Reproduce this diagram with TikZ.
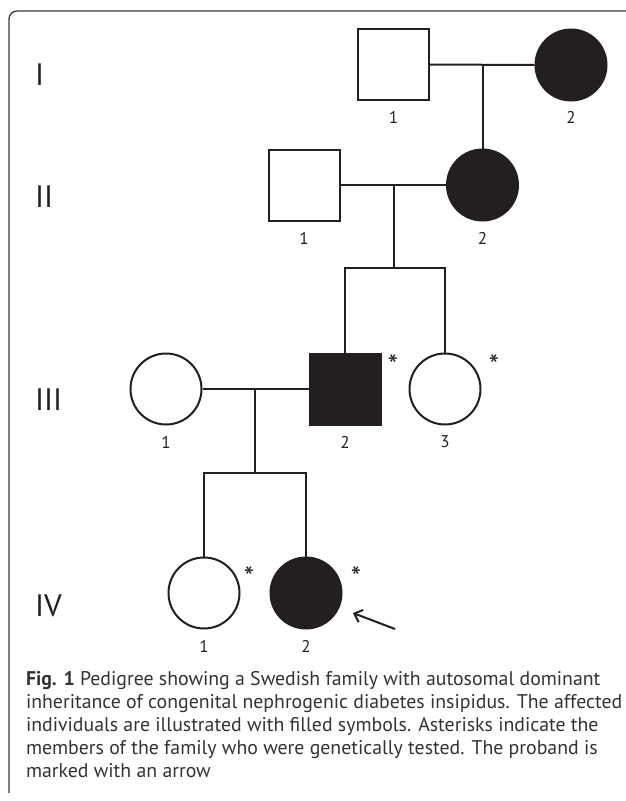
\documentclass[tikz,border=0pt]{standalone}
\usepackage{fontspec}
\setmainfont{PT Sans}
\usetikzlibrary{arrows.meta}
\definecolor{ink}{HTML}{231F20}
\definecolor{framecol}{HTML}{3A3A3A}
\definecolor{captext}{HTML}{333333}
\begin{document}
\begin{tikzpicture}[x=1pt,y=-1pt,
  line width=2pt, draw=ink,
  male/.style={rectangle, draw=ink, line width=2pt, minimum size=71pt, inner sep=0pt},
  female/.style={circle, draw=ink, line width=2pt, minimum size=71pt, inner sep=0pt},
  aff/.style={fill=ink},
  unaff/.style={fill=white},
  gen/.style={anchor=west, inner sep=0pt, font=\fontsize{31}{31}\selectfont, text=ink},
  numlab/.style={inner sep=0pt, font=\fontsize{17}{17}\selectfont, text=ink},
  star/.style={inner sep=0pt, font=\fontsize{29}{29}\selectfont, text=ink},
  capline/.style={anchor=base west, inner sep=0pt, font=\fontsize{19.8}{19.8}\selectfont, text=captext},
  link/.style={draw=ink, line width=2pt}
]
\useasboundingbox (0,0) rectangle (625,801);
% frame
\draw[framecol, line width=1.3pt, rounded corners=8pt] (9,793) -- (9,11) -- (626,11);

% generation labels
\node[gen] (gI) at (34,75) {I};
\node[gen] (gII) at (34,197) {II};
\node[gen] (gIII) at (34,400) {III};
\node[gen] (gIV) at (34,606) {IV};

% individuals
\node[male, unaff] (I1) at (393.5,64.5) {};
\node[female, aff] (I2) at (571,65) {};
\node[male, unaff] (II1) at (304,185) {};
\node[female, aff] (II2) at (482.5,185) {};
\node[female, unaff] (III1) at (166,389) {};
\node[male, aff] (III2) at (345,389) {};
\node[female, unaff] (III3) at (445,389) {};
\node[female, unaff] (IV1) at (204,593) {};
\node[female, aff] (IV2) at (306,593) {};

% numbers
\node[numlab] (nI1) at (393.5,117) {1};
\node[numlab] (nI2) at (571,117) {2};
\node[numlab] (nII1) at (304,238) {1};
\node[numlab] (nII2) at (482.5,238) {2};
\node[numlab] (nIII1) at (166,442) {1};
\node[numlab] (nIII2) at (345,442) {2};
\node[numlab] (nIII3) at (445,442) {3};
\node[numlab] (nIV1) at (204,646) {1};
\node[numlab] (nIV2) at (306,646) {2};

% asterisks
\node[star] (sIII2) at (393,365) {*};
\node[star] (sIII3) at (494,365) {*};
\node[star] (sIV1) at (249,577) {*};
\node[star] (sIV2) at (356,577) {*};

% connectors
\coordinate (m1) at (I1.east -| II2.north);
\draw[link] (I1.east) -- (I2.west);
\draw[link] (m1) -- (II2.north);

\coordinate (m2) at (394,185);
\coordinate (s2) at (394,268);
\draw[link] (II1.east) -- (II2.west);
\draw[link] (m2) -- (s2);
\draw[link] (III2.north) |- (s2) -| (III3.north);

\coordinate (m3) at (255,389);
\coordinate (s3) at (255,472.5);
\draw[link] (III1.east) -- (III2.west);
\draw[link] (m3) -- (s3);
\draw[link] (IV1.north) |- (s3) -| (IV2.north);

% proband arrow
\coordinate (arrS) at (395,629);
\coordinate (arrE) at (353,613);
\draw[link, -{Straight Barb[length=7pt,width=13pt,line width=2pt]}] (arrS) -- (arrE);

% caption
\node[capline] (c1) at (25,685) {\textbf{Fig. 1} Pedigree showing a Swedish family with autosomal dominant};
\node[capline] (c2) at (25,708) {inheritance of congenital nephrogenic diabetes insipidus. The affected};
\node[capline] (c3) at (25,731) {individuals are illustrated with filled symbols. Asterisks indicate the};
\node[capline] (c4) at (25,754) {members of the family who were genetically tested. The proband is};
\node[capline] (c5) at (25,777) {marked with an arrow};
\end{tikzpicture}
\end{document}
